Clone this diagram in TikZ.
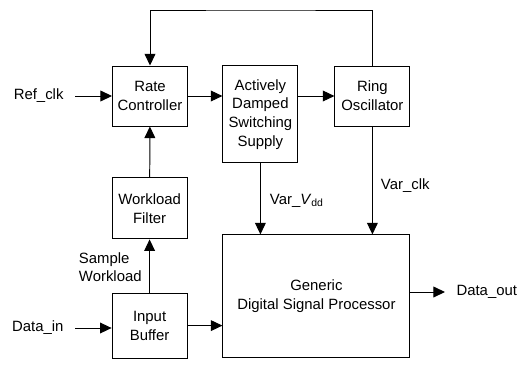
\documentclass[tikz,border=0pt]{standalone}
\usepackage{fontspec}
\setmainfont{Liberation Sans}
\usepackage{tikz}
\usetikzlibrary{arrows.meta,positioning,calc}
\newcommand{\blockfont}{\fontsize{10.6}{13.3}\selectfont}

\begin{document}
\begin{tikzpicture}[
  block/.style={draw, line width=0.7pt, minimum width=1.875cm, align=center, font=\blockfont},
  sig/.style={font=\blockfont, inner xsep=8pt},
  lbl/.style={font=\blockfont, align=left},
  arrow/.style={-{Triangle[length=2.9mm,width=2.7mm]}, line width=0.7pt}
]
\useasboundingbox (0,0) rectangle (13.2,-9.125);
\node[block, minimum height=1.5cm] (rc) at (3.75,-2.4) {Rate\\Controller};
\node[block, minimum height=2.425cm] (adss) at (6.51,-2.86) {Actively\\Damped\\Switching\\Supply};
\node[block, minimum height=1.5cm] (ro) at (9.31,-2.4) {Ring\\Oscillator};
\node[block, minimum height=1.525cm] (wf) at (3.74,-5.21) {Workload\\Filter};
\node[block, minimum height=1.625cm] (ib) at (3.74,-8.14) {Input\\Buffer};
\node[block, minimum width=4.675cm, minimum height=3.075cm] (dsp) at (7.91,-7.41) {Generic\\Digital Signal Processor};
\node[sig, anchor=east] (refclk) at (1.875,-2.4) {Ref\_clk};
\node[sig, anchor=east] (datain) at (1.875,-8.2) {Data\_in};
\node[sig, anchor=west] (dataout) at (11.125,-7.3) {Data\_out};
\node[lbl, anchor=west] (vdd) at (6.625,-5.025) {Var\_\textit{V}\textsubscript{dd}};
\node[lbl, anchor=west] (vclk) at (9.4,-4.65) {Var\_clk};
\node[lbl, anchor=west] (sample) at (1.85,-6.68) {Sample\\Workload};
\coordinate (top) at (6.5,-0.25);
% signal path
\draw[arrow] (refclk) -- (rc);
\draw[arrow] (rc.east) -- (rc.east -| adss.west);
\draw[arrow] (ro.west -| adss.east) -- (ro.west);
\draw[arrow] (ro.north) |- (top) -| (rc.north);
\draw[arrow] (wf) -- (rc);
\draw[arrow] (ib) -- (wf);
\draw[arrow] (datain) -- (datain -| ib.west);
\draw[arrow] (ib.east) -- (ib.east -| dsp.west);
\draw[arrow] (adss.south) -- (adss.south |- dsp.north);
\draw[arrow] (ro.south) -- (ro.south |- dsp.north);
\draw[arrow] (dsp.east |- dataout) -- (dataout);
\end{tikzpicture}
\end{document}
